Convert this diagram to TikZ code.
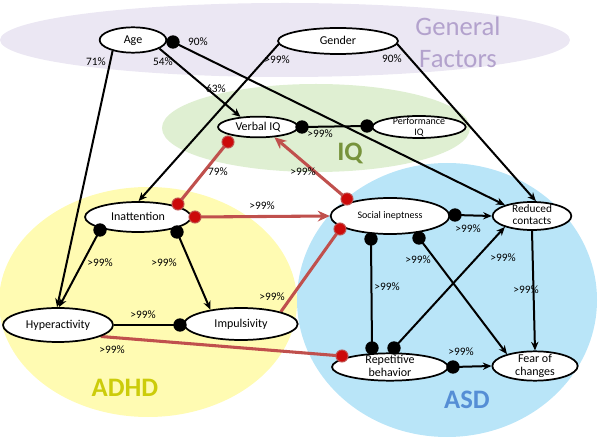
\documentclass[tikz,border=0pt]{standalone}
\usepackage{fontspec}
\setmainfont{Carlito}
\usetikzlibrary{shapes.geometric,arrows.meta,calc}
\definecolor{gfbg}{RGB}{235,231,243}
\definecolor{gftext}{RGB}{179,162,205}
\definecolor{iqbg}{RGB}{223,239,210}
\definecolor{iqtext}{RGB}{119,147,60}
\definecolor{adhdbg}{RGB}{255,251,178}
\definecolor{adhdtext}{RGB}{204,204,10}
\definecolor{asdbg}{RGB}{185,229,248}
\definecolor{asdtext}{RGB}{85,142,213}
\definecolor{linered}{RGB}{192,80,77}
\definecolor{dotred}{RGB}{204,10,10}
\pgfdeclarelayer{bg}
\pgfdeclarelayer{lines}
\pgfsetlayers{bg,lines,main}
\newcommand\ntxt[2][1]{\makebox[0pt]{\raisebox{-0.28em}[0pt][0pt]{\renewcommand\arraystretch{#1}\begin{tabular}{@{}c@{}}#2\end{tabular}}}}
\tikzset{
  ell/.style={ellipse, draw=black, line width=1.3pt, fill=white, inner sep=0pt, font=\fontsize{9}{10.5}\selectfont},
  dot/.style={circle, fill=black, inner sep=0pt, minimum size=10pt},
  rdot/.style={circle, fill=dotred, draw=linered, line width=0.8pt, inner sep=0pt, minimum size=9pt},
  bl/.style={line width=1.5pt, draw=black},
  arr/.style={bl, -{Stealth[length=6.5pt,width=5.5pt]}},
  rl/.style={line width=2.3pt, draw=linered},
  rarr/.style={rl, -{Stealth[length=9pt,width=8pt]}},
  pct/.style={font=\fontsize{8.5}{10}\selectfont, inner sep=0pt},
  big/.style={font=\fontsize{20}{24}\selectfont\bfseries, inner sep=0pt}
}
\begin{document}
\begin{tikzpicture}[x=0.75pt,y=-0.75pt]
\useasboundingbox (0,0) rectangle (600,438);
\begin{pgfonlayer}{bg}
  \fill[gfbg] (285,40) ellipse [x radius=285, y radius=37];
  \fill[adhdbg] (148,302) ellipse [x radius=149, y radius=115];
  \fill[asdbg] (447,300) ellipse [x radius=150, y radius=137];
  \fill[iqbg] (316,128) ellipse [x radius=154, y radius=44];
  \node[font=\fontsize{20}{24}\selectfont, text=gftext, align=center, inner sep=0pt] (gftitle) at (458,42) {General\\Factors};
  \node[big, text=iqtext] (iqtitle) at (350,153) {IQ};
  \node[big, text=adhdtext] (adhdtitle) at (125,388) {ADHD};
  \node[big, text=asdtext] (asdtitle) at (467,400) {ASD};
\end{pgfonlayer}

% nodes
\node[ell, minimum width=50pt, minimum height=19pt] (age) at (133,40) {\ntxt{Age}};
\node[ell, minimum width=90pt, minimum height=19.5pt] (gender) at (338,41) {\ntxt{Gender}};
\node[ell, minimum width=60pt, minimum height=15.5pt] (verbal) at (258,127) {\ntxt{Verbal IQ}};
\node[ell, minimum width=70pt, minimum height=16.5pt, font=\fontsize{7.5}{9}\selectfont] (perf) at (419,127) {\ntxt[0.95]{Performance\\IQ}};
\node[ell, minimum width=79.5pt, minimum height=22.5pt] (inatt) at (138,217) {\ntxt{Inattention}};
\node[ell, minimum width=89pt, minimum height=27pt, font=\fontsize{7.5}{9}\selectfont] (social) at (390,216) {\ntxt{Social ineptness}};
\node[ell, minimum width=59pt, minimum height=21pt, font=\fontsize{8.5}{9.5}\selectfont] (reduced) at (532,216) {\ntxt[0.95]{Reduced\\contacts}};
\node[ell, minimum width=82.5pt, minimum height=25.5pt] (hyper) at (58,325) {\ntxt{Hyperactivity}};
\node[ell, minimum width=85pt, minimum height=24pt] (impuls) at (241,324) {\ntxt{Impulsivity}};
\node[ell, minimum width=87pt, minimum height=20.5pt] (rep) at (390,367) {\ntxt[0.9]{Repetitive\\behavior}};
\node[ell, minimum width=64pt, minimum height=22pt] (fear) at (535,366) {\ntxt[0.9]{Fear of\\changes}};

% dots
\node[dot] (dAge) at (173,42) {};
\node[dot] (dVerbal) at (302,127) {};
\node[dot] (dPerf) at (367,126) {};
\node[dot] (dInattL) at (100,230) {};
\node[dot] (dInattR) at (177,232) {};
\node[dot] (dImp) at (180,325) {};
\node[dot] (dSocR) at (455,215) {};
\node[dot] (dSocB1) at (371,239) {};
\node[dot] (dSocB2) at (419,238) {};
\node[dot] (dRep1) at (372,348) {};
\node[dot] (dRep2) at (394,348) {};
\node[dot] (dRepR) at (453,367) {};
\node[rdot] (rInattTR) at (178,204) {};
\node[rdot] (rInattR) at (195,217) {};
\node[rdot] (rVerbal) at (228,142) {};
\node[rdot] (rSocTL) at (347,199) {};
\node[rdot] (rSocBL) at (340,229) {};
\node[rdot] (rRep) at (342,356) {};

% connectors
\begin{pgfonlayer}{lines}
  \draw[arr] (age.208) -- (hyper.93);
  \draw[arr] (age.-18) -- (verbal.150);
  \draw[arr] (dAge.center) -- (reduced.158);
  \draw[arr] (gender.183) -- (inatt.88);
  \draw[arr] (gender.-3) -- (reduced.75);
  \draw[bl] (dVerbal.center) -- (dPerf.center);
  \draw[rl] (rInattTR.center) -- (rVerbal.center);
  \draw[rarr] (rSocTL.center) -- (verbal.-32);
  \draw[rarr] (rInattR.center) -- (social.west);
  \draw[rl] (impuls.17) -- (rSocBL.center);
  \draw[rl] (hyper.-15) -- (rRep.center);
  \draw[arr] (dInattL.center) -- (hyper.87);
  \draw[arr] (dInattR.center) -- (impuls.155);
  \draw[bl] (hyper.east) -- (dImp.center);
  \draw[arr] (dSocR.center) -- (reduced.west);
  \draw[bl] (dSocB1.center) -- (dRep1.center);
  \draw[arr] (dSocB2.center) -- (fear.157);
  \draw[arr] (dRep2.center) -- (reduced.202);
  \draw[arr] (reduced.south) -- (fear.north);
  \draw[arr] (dRepR.center) -- (fear.west);
\end{pgfonlayer}

% labels
\node[pct] (l1) at (96,62) {71\%};
\node[pct] (l2) at (163,62) {54\%};
\node[pct] (l3) at (216,89) {63\%};
\node[pct] (l4) at (198,42) {90\%};
\node[pct] (l5) at (277,60) {>99\%};
\node[pct] (l6) at (392,59) {90\%};
\node[pct] (l7) at (320,134) {>99\%};
\node[pct] (l8) at (218,172) {79\%};
\node[pct] (l9) at (303,172) {>99\%};
\node[pct] (l10) at (262,206) {>99\%};
\node[pct] (l11) at (100,263) {>99\%};
\node[pct] (l12) at (164,263) {>99\%};
\node[pct] (l13) at (272,297) {>99\%};
\node[pct] (l14) at (143,315) {>99\%};
\node[pct] (l15) at (112,350) {>99\%};
\node[pct] (l16) at (468,229) {>99\%};
\node[pct] (l17) at (418,260) {>99\%};
\node[pct] (l18) at (503,258) {>99\%};
\node[pct] (l19) at (387,287) {>99\%};
\node[pct] (l20) at (526,290) {>99\%};
\node[pct] (l21) at (461,352) {>99\%};
\end{tikzpicture}
\end{document}
